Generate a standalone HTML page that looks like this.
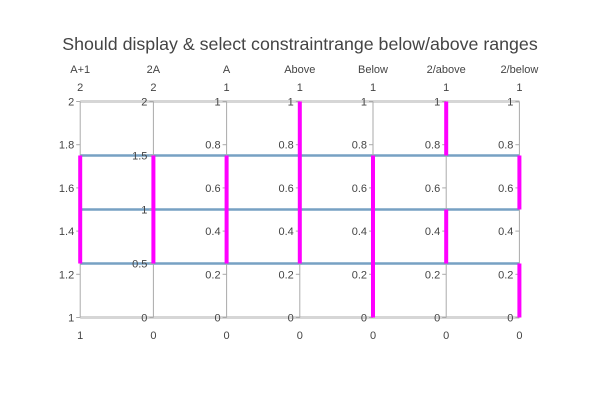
<!DOCTYPE html>
<html><head><meta charset="utf-8"><style>
body{margin:0;background:#fff}
svg{display:block;font-family:"Liberation Sans","Open Sans",sans-serif}
</style></head><body>
<svg id="chart" width="600" height="400">
<text x="300" y="50" text-anchor="middle" font-size="17.8" fill="#444">Should display &amp; select constraintrange below/above ranges</text>
<g id="g"></g>
</svg>
<script>
const dimNames = ["A+1","2A","A","Above","Below","2/above","2/below"];
const dimMin = [1,0,0,0,0,0,0];
const dimMax = [2,2,1,1,1,1,1];
const dimTicks = [[1,1.2,1.4,1.6,1.8,2],[0,0.5,1,1.5,2],[0,0.2,0.4,0.6,0.8,1],[0,0.2,0.4,0.6,0.8,1],[0,0.2,0.4,0.6,0.8,1],[0,0.2,0.4,0.6,0.8,1],[0,0.2,0.4,0.6,0.8,1]];
const baseA = [0,0.25,0.5,0.75,1];
const constraints = [[[1.25,1.75]],[[0.5,1.5]],[[0.25,0.75]],[[0.25,1]],[[0,0.75]],[[0.75,1],[0.25,0.5]],[[0,0.25],[0.5,0.75]]];
const dimTransforms = [a=>a+1,a=>2*a,a=>a,a=>a,a=>a,a=>a,a=>a];

const NS="http://www.w3.org/2000/svg";
const g=document.getElementById('g');
const x0=80.2,dx=73.2,yTop=101.5,yBot=317.5;
const X=i=>x0+i*dx;
const Y=(i,v)=>yBot-(v-dimMin[i])/(dimMax[i]-dimMin[i])*(yBot-yTop);
function mk(t,a){const e=document.createElementNS(NS,t);for(const k in a)e.setAttribute(k,a[k]);g.appendChild(e);return e;}
function sel(v,i){return constraints[i].some(r=>v>=r[0]-1e-9&&v<=r[1]+1e-9);}
baseA.forEach((a,li)=>{
  const vals=dimTransforms.map(f=>f(a));
  const on=vals.every((v,i)=>sel(v,i));
  const pts=vals.map((v,i)=>X(i)+','+Y(i,v)).join(' ');
  const p=mk('polyline',{points:pts,fill:'none',stroke:on?'#77a1c3':'#d6d6d6','stroke-width':on?2.5:3});
  
  
});
dimNames.forEach((n,i)=>{
  const x=X(i);
  const ax=mk('line',{x1:x,x2:x,y1:yTop,y2:yBot,stroke:'#aaa','stroke-width':1});
  
  
  dimTicks[i].forEach(t=>{
    const y=Y(i,t);
    mk('line',{x1:x-4,x2:x,y1:y,y2:y,stroke:'#aaa'});
    const tl=mk('text',{x:x-6,y:y+4,'text-anchor':'end','font-size':11,fill:'#444'});
    tl.textContent=String(t);
    
    
  });
  const nm=mk('text',{x:x,y:73,'text-anchor':'middle','font-size':11,fill:'#444'});
  nm.textContent=n;
  
  
  const mx=mk('text',{x:x,y:91,'text-anchor':'middle','font-size':11,fill:'#444'});
  mx.textContent=String(dimMax[i]);
  
  
  const mn=mk('text',{x:x,y:339,'text-anchor':'middle','font-size':11,fill:'#444'});
  mn.textContent=String(dimMin[i]);
  
  
  constraints[i].forEach(r=>{
    const b=mk('rect',{x:x-2,y:Y(i,r[1]),width:4,height:Y(i,r[0])-Y(i,r[1]),fill:'#ff00ff'});
    
    
  });
});
</script>
</body></html>
